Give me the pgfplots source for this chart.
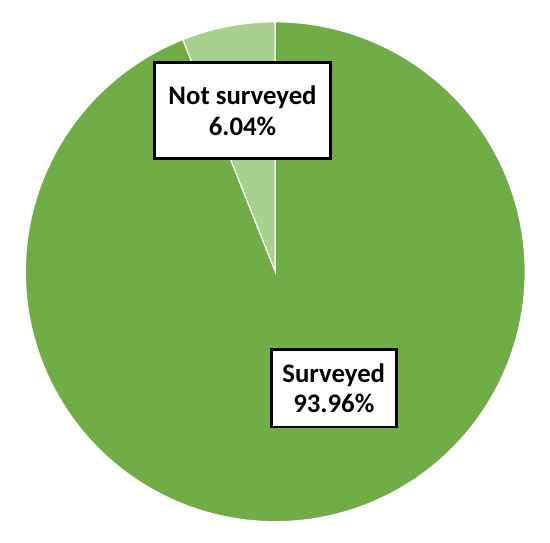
\documentclass[border=0pt]{standalone}
\usepackage{fontspec}
\setmainfont{Carlito}
\usepackage{pgfplots}
\usepackage{pgfplotstable}
\pgfplotsset{compat=1.18}
\definecolor{surv}{HTML}{70AD47}
\definecolor{notsurv}{HTML}{A9D18E}

\pgfplotstableread{
label value
Surveyed 93.96
NotSurveyed 6.04
}\piedata

\begin{document}
\pgfplotstablegetelem{0}{value}\of\piedata\let\vS\pgfplotsretval
\pgfplotstablegetelem{1}{value}\of\piedata\let\vN\pgfplotsretval
\pgfmathsetmacro{\aN}{90+3.6*\vN}
\pgfmathsetmacro{\aS}{\aN+3.6*\vS}
\begin{tikzpicture}
\begin{axis}[
    scale only axis,
    width=550bp, height=547bp,
    xmin=0, xmax=550, ymin=0, ymax=547,
    hide axis,
    clip=false,
]
\path (rel axis cs:0,0) rectangle (rel axis cs:1,1);
% Not surveyed slice
\addplot[fill=notsurv, draw=white, line width=1.2bp, domain=90:\aN, samples=40, variable=\t]
    ({273+252*cos(t)}, {273+252*sin(t)}) -- (axis cs:273,273) -- cycle;
% Surveyed slice
\addplot[fill=surv, draw=white, line width=1.2bp, domain=\aN:\aS, samples=300, variable=\t]
    ({273+252*cos(t)}, {273+252*sin(t)}) -- (axis cs:273,273) -- cycle;

\node[draw=black, line width=3bp, fill=white, align=center, font=\bfseries\fontsize{27bp}{31bp}\selectfont,
      inner sep=0pt, minimum width=177bp, minimum height=96bp] at (axis cs:240,435.5) {Not surveyed\\6.04\%};
\node[draw=black, line width=3bp, fill=white, align=center, font=\bfseries\fontsize{27bp}{31bp}\selectfont,
      inner sep=0pt, minimum width=126bp, minimum height=78bp] at (axis cs:332,155.5) {Surveyed\\93.96\%};
\end{axis}
\end{tikzpicture}
\end{document}
